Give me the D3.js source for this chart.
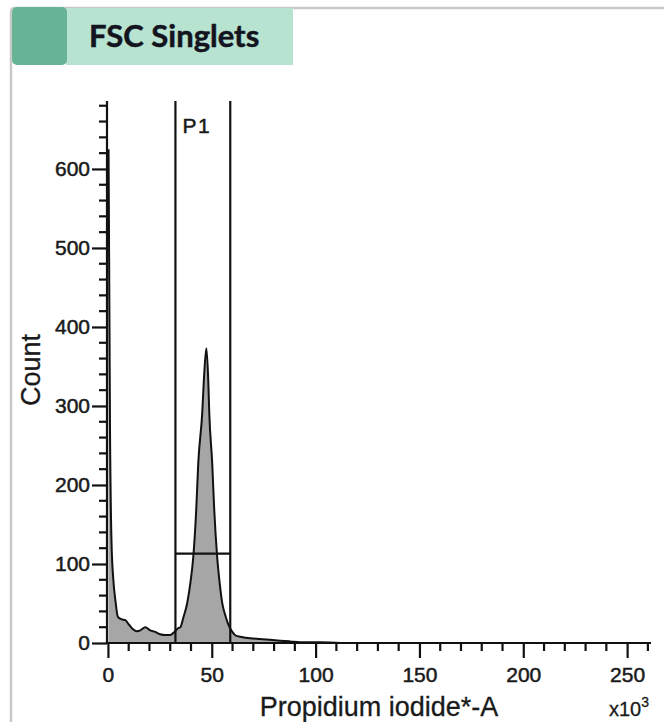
<!DOCTYPE html>
<html><head><meta charset="utf-8">
<script src="https://cdn.jsdelivr.net/npm/d3@7"></script>
<style>
html,body{margin:0;padding:0;background:#fff;}
svg{display:block;}
</style></head>
<body>
<script>
// ---- data ----
const title = "FSC Singlets";
const xLabel = "Propidium iodide*-A";
const xUnit = "x10";
const yLabel = "Count";
const xTickValues = [0, 50, 100, 150, 200, 250];
const yTickValues = [0, 100, 200, 300, 400, 500, 600];
// histogram outline (x in thousands, count)
const binX =     [0.3, 1, 1.7, 2.6, 3.6, 4.8, 6.5, 8.4, 9.9, 11.8, 13.7, 15.6, 18, 20.4, 22.8, 25.2, 27.6, 30, 32, 33.9, 34.9, 36.3, 38.2, 39.7, 41.1, 42.5, 43.5, 45.4, 46.2, 47.4, 48.3, 48.8, 50.2, 51.2, 52.6, 53.8, 55, 56.5, 57.9, 59.9, 61.8, 63.7, 68.5, 73.3, 78, 83, 87.7, 92.5, 102, 112, 261];
const binCount = [625, 270, 130, 80, 54, 33, 30, 29, 24, 18, 15, 16, 20, 16, 14, 11, 10, 10, 14, 19, 20, 32, 51, 76, 109, 168, 228, 291, 333, 373, 333, 291, 228, 168, 109, 76, 51, 35, 24, 14, 9, 8, 6, 5, 4, 3, 2, 1, 1, 0, 0];
const gateName = "P1";
const gateMin = 32.5, gateMax = 58.9, gateLevel = 113;

// ---- layout ----
const W = 664, H = 722;
const svg = d3.select("body").append("svg").attr("width", W).attr("height", H);

// panel frame
svg.append("path").attr("d", "M11,722 L11,12 Q11,8 15,8 L664,8")
  .attr("fill", "none").attr("stroke", "#c9c9c9").attr("stroke-width", 2.5);
svg.append("rect").attr("x", 66).attr("y", 8).attr("width", 227).attr("height", 57).attr("fill", "#b7e3d0");
svg.append("rect").attr("x", 12).attr("y", 7).attr("width", 55).attr("height", 58).attr("rx", 5).attr("fill", "#66b495");
svg.append("text").attr("x", 89).attr("y", 47).text(title)
  .attr("font-family", "Lato, 'Open Sans', sans-serif").attr("font-weight", "bold")
  .attr("font-size", 31).attr("fill", "#141420").attr("stroke", "#141420").attr("stroke-width", 0.5);

const x = d3.scaleLinear().domain([-0.45, 261.5]).range([107, 651]);
const y = d3.scaleLinear().domain([0, 686]).range([643, 101]);

const font = "'Liberation Sans', Arial, sans-serif";

// histogram
const pts = binX.map((v, i) => [v, binCount[i]]);
const area = d3.area().x(d => x(d[0])).y0(y(0)).y1(d => y(d[1])).curve(d3.curveMonotoneX);
const line = d3.line().x(d => x(d[0])).y(d => y(d[1])).curve(d3.curveMonotoneX);
svg.append("path").datum(pts).attr("d", area).attr("fill", "#a6a6a6");
svg.append("path").datum(pts).attr("d", line).attr("fill", "none").attr("stroke", "#111").attr("stroke-width", 2);

// gate
const g = svg.append("g").attr("stroke", "#111").attr("stroke-width", 2.2).attr("fill", "none");
g.append("line").attr("x1", x(gateMin)).attr("x2", x(gateMin)).attr("y1", y(686)).attr("y2", y(0));
g.append("line").attr("x1", x(gateMax)).attr("x2", x(gateMax)).attr("y1", y(686)).attr("y2", y(0));
g.append("line").attr("x1", x(gateMin)).attr("x2", x(gateMax)).attr("y1", y(gateLevel)).attr("y2", y(gateLevel));
svg.append("text").attr("x", x(gateMin) + 7).attr("y", 133).text(gateName)
  .attr("font-family", font).attr("font-size", 21).attr("letter-spacing", 1.5)
  .attr("fill", "#1a1a1a").attr("stroke", "#1a1a1a").attr("stroke-width", 0.5);

// y axis
const yAxis = svg.append("g").attr("transform", `translate(${x.range()[0]},0)`);
yAxis.call(d3.axisLeft(y).tickValues(yTickValues).tickSize(15).tickPadding(2).tickFormat(d3.format("d")));
yAxis.selectAll(".minor").data(d3.range(20, 686, 20).filter(v => v % 100 !== 0)).join("line")
  .attr("class", "minor").attr("x1", -8).attr("x2", 0).attr("y1", d => y(d)).attr("y2", d => y(d));
yAxis.select(".domain").attr("d", `M0,${y(686)}V${y(0) + 1}`);

// x axis
const xAxis = svg.append("g").attr("transform", `translate(0,${y(0)})`);
xAxis.call(d3.axisBottom(x).tickValues(xTickValues).tickSize(15).tickPadding(9).tickFormat(d3.format("d")));
xAxis.selectAll(".minor").data(d3.range(10, 261, 10).filter(v => v % 50 !== 0)).join("line")
  .attr("class", "minor").attr("y1", 0).attr("y2", 8).attr("x1", d => x(d)).attr("x2", d => x(d));
xAxis.select(".domain").attr("d", `M${x.range()[0] - 1},0H${x.range()[1]}`);

[yAxis, xAxis].forEach(a => {
  a.selectAll(".domain, line").attr("stroke", "#111").attr("stroke-width", 2.2);
  a.selectAll("text").attr("font-family", font).attr("font-size", 21)
    .attr("fill", "#1a1a1a").attr("stroke", "#1a1a1a").attr("stroke-width", 0.5);
});

// axis labels
svg.append("text").attr("x", 379).attr("y", 716).attr("text-anchor", "middle").text(xLabel)
  .attr("font-family", font).attr("font-size", 27).attr("fill", "#1a1a1a")
  .attr("stroke", "#1a1a1a").attr("stroke-width", 0.3);
const u = svg.append("text").attr("x", 649).attr("y", 716).attr("text-anchor", "end")
  .attr("font-family", font).attr("font-size", 20).attr("fill", "#1a1a1a")
  .attr("stroke", "#1a1a1a").attr("stroke-width", 0.3);
u.append("tspan").text(xUnit);
u.append("tspan").text("3").attr("font-size", 14).attr("dy", -9);
svg.append("text").attr("transform", "translate(40,370) rotate(-90)").attr("text-anchor", "middle")
  .text(yLabel).attr("font-family", font).attr("font-size", 27).attr("fill", "#1a1a1a")
  .attr("stroke", "#1a1a1a").attr("stroke-width", 0.3);
</script>
</body></html>
